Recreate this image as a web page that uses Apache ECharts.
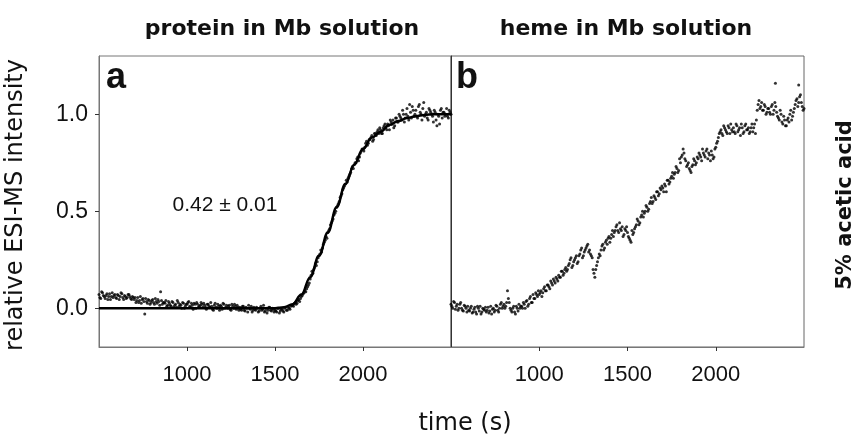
<!DOCTYPE html>
<html><head><meta charset="utf-8">
<script src="https://cdn.jsdelivr.net/npm/echarts@6/dist/echarts.min.js"></script>
<style>html,body{margin:0;padding:0;background:#fff}#c{width:863px;height:438px}</style>
</head><body><div id="c"></div>
<script>
// ---- data ----
const xTickValues = [1000, 1500, 2000];
const yTickValues = [0, 0.5, 1.0];
const timeStart = 500;   // s, first sample
const timeStep = 10;     // s, sampling interval of each point list

// panel a: protein in Mb solution, samples at 500, 510, ... 2500 s
const proteinA = [
 0.07,0.05,0.08,0.06,0.065,0.045,0.075,0.06,0.055,0.07, 0.05,0.065,0.06,0.075,0.045,0.06,0.055,0.07,0.05,0.06,
 0.045,0.03,0.055,0.04,0.025,0.05,-0.03,0.035,0.045,0.02, 0.04,0.03,0.05,0.025,0.035,0.085,0.02,0.03,0.04,0.015,
 0.025,0.01,0.03,0.015,0.005,0.03,0.02,0.0,0.025,0.01, 0.02,0.035,0.005,0.015,0.025,0.0,0.02,0.01,0.03,0.005,
 0.015,-0.005,0.02,0.005,0.01,-0.01,0.025,0.0,0.01,0.015, -0.005,0.02,0.005,0.0,0.015,-0.01,0.01,0.02,-0.005,0.005,
 0.005,-0.01,0.01,-0.015,0.0,0.015,-0.005,-0.02,0.005,-0.01, 0.0,-0.015,0.01,-0.005,-0.02,0.0,-0.01,0.005,-0.015,-0.005,
 -0.01,-0.02,0.0,-0.015,-0.005,-0.02,0.005,-0.01,0.0,0.01, 0.015,0.025,0.02,0.04,0.035,0.06,0.075,0.09,0.1,0.12,
 0.15,0.19,0.2,0.23,0.24,0.27,0.3,0.31,0.34,0.37, 0.39,0.41,0.44,0.46,0.49,0.52,0.54,0.57,0.59,0.62,
 0.64,0.65,0.68,0.7,0.73,0.74,0.75,0.78,0.78,0.81, 0.82,0.83,0.86,0.85,0.87,0.89,0.87,0.9,0.91,0.9,
 0.92,0.9,0.94,0.93,0.95,0.92,0.96,0.97,0.94,0.98, 0.96,0.99,0.97,1.0,0.98,1.03,0.97,1.01,1.04,0.99,
 1.02,0.98,1.05,1.0,1.03,0.99,1.01,0.97,1.02,1.0, 0.96,1.01,0.94,0.99,1.02,0.98,1.01,1.0,0.99,1.02,1.0
];
// panel a: samples at 505, 515, ... 2495 s
const proteinA2 = [
 0.055,0.085,0.065,0.05,0.075,0.06,0.045,0.08,0.065,0.055, 0.07,0.045,0.08,0.055,0.065,0.05,0.07,0.06,0.045,0.055,
 0.055,0.04,0.03,0.06,0.045,0.035,0.05,0.025,0.04,0.03, 0.045,0.02,0.035,0.045,0.015,0.04,0.03,0.025,0.01,0.035,
 0.015,0.035,0.005,0.02,0.04,0.01,0.015,0.03,0.0,0.02, 0.03,0.01,0.025,-0.005,0.02,0.03,0.005,0.015,0.02,0.025,
 0.005,0.02,0.01,0.03,-0.005,0.015,0.005,0.02,-0.01,0.01, 0.025,0.0,0.015,0.01,-0.005,0.02,0.0,0.01,0.015,-0.01,
 -0.005,0.01,-0.01,0.005,-0.02,0.0,0.01,-0.01,-0.005,0.005, -0.02,0.0,-0.01,0.015,-0.015,-0.025,0.005,-0.01,0.0,-0.02,
 -0.015,0.0,-0.025,-0.005,-0.015,0.0,-0.01,0.005,-0.005,0.015, 0.01,0.03,0.025,0.045,0.05,0.065,0.08,0.085,0.11,0.13,
 0.17,0.18,0.21,0.22,0.26,0.28,0.29,0.33,0.35,0.36, 0.4,0.43,0.45,0.48,0.5,0.53,0.55,0.58,0.61,0.63,
 0.66,0.67,0.69,0.72,0.72,0.75,0.77,0.76,0.8,0.82, 0.81,0.85,0.84,0.87,0.88,0.86,0.9,0.89,0.92,0.93,
 0.9,0.93,0.95,0.92,0.94,0.97,0.95,0.93,0.98,0.96, 1.0,0.98,1.02,0.96,1.0,0.99,1.05,0.98,1.02,1.0,
 0.99,1.04,1.01,0.97,1.06,1.0,0.98,1.03,1.01,0.99, 1.02,0.97,1.0,0.95,1.03,1.01,0.99,1.03,0.98,1.01
];

// panel a: fitted curve
const fitTimes  = [500,1500,1550,1600,1650,1700,1750,1800,1850,1900,1950,2000,2050,2100,2150,2200,2250,2300,2350,2400,2450,2500];
const fitValues = [0,0,0.005,0.02,0.07,0.16,0.27,0.39,0.52,0.64,0.74,0.82,0.88,0.91,0.945,0.965,0.98,0.99,0.996,1.0,1.0,1.0];

// panel b: heme in Mb solution, samples at 500, 510, ... 2500 s
const hemeB = [
 0.02,0.0,0.03,0.01,-0.01,0.02,0.0,-0.015,0.01,-0.02,
 -0.01,0.0,-0.025,-0.005,-0.02,0.01,-0.015,-0.03,0.0,-0.01,
 -0.02,0.005,-0.015,-0.03,0.0,-0.01,0.01,-0.02,0.02,0.0,
 0.02,0.01,0.09,0.03,-0.01,0.0,-0.02,0.01,-0.015,0.0,
 0.01,0.03,0.0,0.04,0.02,0.06,0.03,0.05,0.08,0.06,
 0.07,0.09,0.08,0.11,0.09,0.12,0.1,0.13,0.15,0.13,
 0.15,0.17,0.16,0.19,0.18,0.21,0.2,0.23,0.26,0.22,
 0.25,0.27,0.24,0.28,0.31,0.27,0.3,0.32,0.29,0.28,
 0.26,0.18,0.2,0.24,0.28,0.3,0.33,0.31,0.35,0.36,
 0.34,0.38,0.37,0.4,0.43,0.39,0.41,0.42,0.38,0.4,
 0.39,0.36,0.34,0.38,0.41,0.43,0.45,0.44,0.48,0.47,
 0.5,0.52,0.51,0.55,0.54,0.58,0.56,0.6,0.59,0.61,
 0.62,0.64,0.6,0.66,0.65,0.68,0.67,0.7,0.72,0.71,
 0.75,0.79,0.8,0.76,0.74,0.72,0.7,0.74,0.76,0.75,
 0.77,0.79,0.76,0.8,0.78,0.82,0.8,0.76,0.79,0.78,
 0.83,0.86,0.9,0.92,0.89,0.93,0.91,0.94,0.9,0.92,
 0.93,0.9,0.94,0.92,0.89,0.93,0.91,0.95,0.92,0.9,
 0.93,0.91,0.95,0.97,1.05,1.03,1.06,1.02,1.04,1.01,
 1.03,1.0,1.05,1.02,1.04,0.99,0.97,1.0,0.95,0.97,
 0.94,0.98,1.0,0.97,1.01,1.05,1.08,1.06,1.1,1.04,
 1.03
];
// panel b: samples at 505, 515, ... 2495 s
const hemeB2 = [
 0.01,0.035,-0.005,0.02,0.0,0.03,-0.01,0.015,0.0,0.01,
 -0.015,0.01,-0.02,0.005,-0.03,0.0,0.01,-0.02,-0.005,0.005,
 -0.01,-0.025,0.01,-0.005,-0.02,0.015,-0.01,0.0,0.03,0.01,
 0.0,0.03,0.05,0.0,-0.02,0.01,-0.03,0.0,0.02,0.01,
 0.0,0.02,0.035,0.01,0.05,0.03,0.07,0.05,0.07,0.09,
 0.08,0.06,0.1,0.09,0.12,0.11,0.14,0.12,0.14,0.16,
 0.14,0.16,0.19,0.17,0.2,0.19,0.22,0.25,0.21,0.24,
 0.26,0.23,0.27,0.3,0.26,0.29,0.31,0.33,0.3,0.27,
 0.2,0.16,0.22,0.26,0.27,0.32,0.3,0.34,0.33,0.37,
 0.36,0.4,0.39,0.42,0.4,0.44,0.4,0.37,0.41,0.42,
 0.37,0.35,0.4,0.39,0.42,0.46,0.43,0.47,0.5,0.49,
 0.53,0.5,0.54,0.57,0.55,0.57,0.6,0.58,0.62,0.63,
 0.6,0.63,0.66,0.64,0.67,0.7,0.69,0.73,0.7,0.77,
 0.78,0.82,0.77,0.73,0.75,0.71,0.73,0.77,0.74,0.78,
 0.8,0.78,0.82,0.79,0.81,0.77,0.79,0.81,0.77,0.82,
 0.85,0.88,0.91,0.9,0.94,0.92,0.9,0.93,0.95,0.91,
 0.91,0.95,0.91,0.93,0.95,0.9,0.94,0.92,0.93,0.91,
 0.95,0.93,0.9,1.02,1.07,1.04,1.02,1.05,1.0,1.03,
 1.01,1.04,1.0,1.06,1.01,0.98,1.02,0.96,0.99,0.94,
 0.97,0.96,1.02,0.99,1.03,1.07,1.04,1.09,1.06,1.02
];
const hemeOutlierTimes  = [2338, 2470];
const hemeOutlierValues = [1.16, 1.15];

// ---- build ----
const pairs = (vals, start) => vals.map((v, i) => [start + i * timeStep, v]);
const zip = (xs, ys) => xs.map((x, i) => [x, ys[i]]);

const chart = echarts.init(document.getElementById('c'), null, {renderer: 'canvas'});
const axisFont = '"Liberation Sans", Arial, sans-serif';
function xAx(gi) {
  return {
    gridIndex: gi, type: 'value', min: 500, max: 2500, interval: 500,
    axisLine: {show: true, onZero: false, lineStyle: {color: '#777', width: 1}},
    axisTick: {show: true, customValues: xTickValues, length: 4, lineStyle: {color: '#333'}},
    axisLabel: {customValues: xTickValues, fontSize: 22, fontFamily: axisFont, color: '#111', margin: 17,
                formatter: v => String(v)},
    splitLine: {show: false}
  };
}
const dot = {symbolSize: 3, itemStyle: {color: '#000'}, silent: true};
const option = {
  animation: false,
  backgroundColor: '#fff',
  grid: [
    {left: 99, top: 56, width: 352, height: 291, show: true, borderColor: '#777', borderWidth: 1, containLabel: false},
    {left: 451, top: 56, width: 353, height: 291, show: true, borderColor: '#666', borderWidth: 1, containLabel: false}
  ],
  xAxis: [xAx(0), xAx(1)],
  yAxis: [
    {gridIndex: 0, type: 'value', min: -0.2, max: 1.3, interval: 0.1,
     axisLine: {show: true, onZero: false, lineStyle: {color: '#777'}},
     axisTick: {show: true, customValues: yTickValues, length: 4, lineStyle: {color: '#333'}},
     axisLabel: {customValues: yTickValues, fontSize: 23, fontFamily: axisFont, color: '#111', margin: 11,
                 formatter: v => v.toFixed(1)},
     splitLine: {show: false}},
    {gridIndex: 1, type: 'value', min: -0.2, max: 1.3, interval: 0.1,
     axisLine: {show: true, onZero: false, lineStyle: {color: '#333'}}, axisTick: {show: false}, axisLabel: {show: false},
     splitLine: {show: false}}
  ],
  series: [
    Object.assign({type: 'scatter', xAxisIndex: 0, yAxisIndex: 0, data: pairs(proteinA, timeStart)}, dot),
    Object.assign({type: 'scatter', xAxisIndex: 0, yAxisIndex: 0, data: pairs(proteinA2, timeStart + timeStep / 2)}, dot),
    {type: 'line', xAxisIndex: 0, yAxisIndex: 0, data: zip(fitTimes, fitValues), showSymbol: false,
     smooth: 0.4, smoothMonotone: 'x', lineStyle: {color: '#000', width: 2.5}, silent: true, z: 3},
    Object.assign({type: 'scatter', xAxisIndex: 1, yAxisIndex: 1,
     data: pairs(hemeB, timeStart).concat(zip(hemeOutlierTimes, hemeOutlierValues))}, dot),
    Object.assign({type: 'scatter', xAxisIndex: 1, yAxisIndex: 1, data: pairs(hemeB2, timeStart + timeStep / 2)}, dot)
  ],
  graphic: [
    {type: 'text', x: 282, y: 29, style: {text: 'protein in Mb solution', font: 'bold 22px "DejaVu Sans"', fill: '#111',
      align: 'center', verticalAlign: 'middle', textAlign: 'center', textVerticalAlign: 'middle'}},
    {type: 'text', x: 626, y: 29, style: {text: 'heme in Mb solution', font: 'bold 22px "DejaVu Sans"', fill: '#111',
      align: 'center', verticalAlign: 'middle', textAlign: 'center', textVerticalAlign: 'middle'}},
    {type: 'text', x: 106, y: 78, style: {text: 'a', font: 'bold 36px "Liberation Sans"', fill: '#111',
      align: 'left', verticalAlign: 'middle', textAlign: 'left', textVerticalAlign: 'middle'}},
    {type: 'text', x: 456, y: 78, style: {text: 'b', font: 'bold 36px "Liberation Sans"', fill: '#111',
      align: 'left', verticalAlign: 'middle', textAlign: 'left', textVerticalAlign: 'middle'}},
    {type: 'text', x: 225, y: 205, style: {text: '0.42 ± 0.01', font: '21px "Liberation Sans"', fill: '#111',
      align: 'center', verticalAlign: 'middle', textAlign: 'center', textVerticalAlign: 'middle'}},
    {type: 'text', x: 16, y: 205, rotation: Math.PI / 2, style: {text: 'relative ESI-MS intensity', font: '24px "DejaVu Sans"', fill: '#111',
      align: 'center', verticalAlign: 'middle', textAlign: 'center', textVerticalAlign: 'middle'}},
    {type: 'text', x: 846, y: 205, rotation: Math.PI / 2, style: {text: '5% acetic acid', font: 'bold 21px "DejaVu Sans"', fill: '#111',
      align: 'center', verticalAlign: 'middle', textAlign: 'center', textVerticalAlign: 'middle'}},
    {type: 'text', x: 465, y: 424, style: {text: 'time (s)', font: '24px "DejaVu Sans"', fill: '#111',
      align: 'center', verticalAlign: 'middle', textAlign: 'center', textVerticalAlign: 'middle'}}
  ]
};
chart.setOption(option);
</script>
</body></html>
